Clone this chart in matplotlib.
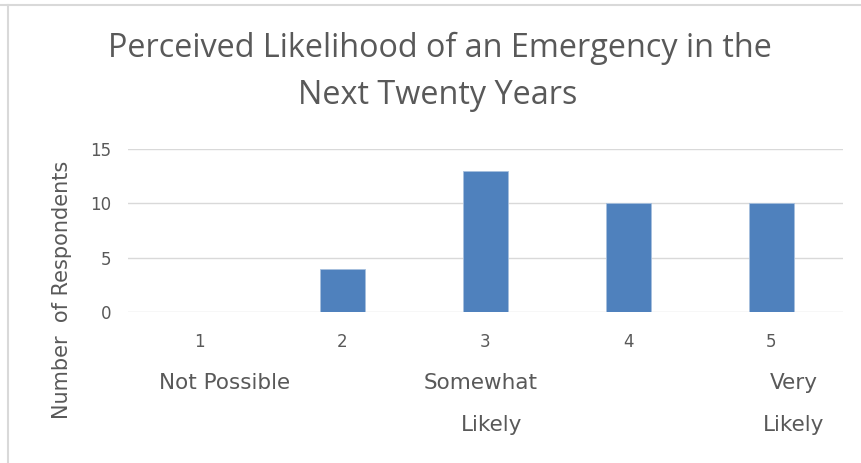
"""Perceived likelihood bar chart."""

import matplotlib

matplotlib.use("Agg")

import matplotlib.pyplot as plt
from matplotlib.lines import Line2D
from matplotlib.transforms import blended_transform_factory, offset_copy

ratings = ["1", "2", "3", "4", "5"]
respondents = [0, 4, 13, 10, 10]
anchor_top = ["Not Possible", "", "Somewhat", "", "Very"]
anchor_bottom = ["", "", "Likely", "", "Likely"]
y_ticks = [0, 5, 10, 15]

TEXT = "#595959"
BAR = "#4f81bd"
GRID = "#d9d9d9"
W, H = 862, 463

plt.rcParams["font.family"] = ["DejaVu Sans"]

fig = plt.figure(figsize=(W / 100, H / 100), dpi=100)
ax = fig.add_axes([128 / W, 1 - 312 / H, (843 - 128) / W, (312 - 149) / H])

x = range(len(ratings))
ax.bar(x, respondents, width=0.31, color=BAR, edgecolor="#a7c0de", linewidth=0.6, zorder=3)
ax.set_xlim(-0.5, len(ratings) - 0.5)
ax.set_ylim(0, 15)
ax.set_yticks(y_ticks)
ax.set_yticklabels([str(v) for v in y_ticks])
ax.set_xticks(list(x))
ax.set_xticklabels(ratings)
ax.tick_params(axis="both", length=0, labelsize=12, colors=TEXT)
ax.tick_params(axis="x", pad=15)
ax.tick_params(axis="y", pad=12)
ax.grid(axis="y", color=GRID, linewidth=1.0, zorder=0)
for side in ax.spines.values():
    side.set_visible(False)

# anchor words under the numeric ratings, nudged in pixels like the source sheet
trans = blended_transform_factory(ax.transData, fig.transFigure)
top_shift = [25, 0, -5, 0, 22]
bottom_shift = [0, 0, 6, 0, 22]
for i in x:
    if anchor_top[i]:
        t = offset_copy(trans, fig=fig, x=top_shift[i], y=0, units="dots")
        ax.text(i, 1 - 383 / H, anchor_top[i], transform=t, ha="center",
                va="center", fontsize=15.5, color=TEXT)
    if anchor_bottom[i]:
        t = offset_copy(trans, fig=fig, x=bottom_shift[i], y=0, units="dots")
        ax.text(i, 1 - 425 / H, anchor_bottom[i], transform=t, ha="center",
                va="center", fontsize=15.5, color=TEXT)

fig.text(62 / W, 1 - 290 / H, "Number  of Respondents", rotation=90, ha="center",
         va="center", fontsize=15, color=TEXT)

fig.text(440 / W, 1 - 48 / H, "Perceived Likelihood of an Emergency in the",
         ha="center", va="center", fontsize=23.3, color=TEXT, family=["Open Sans", "DejaVu Sans"])
fig.text(438 / W, 1 - 95 / H, "Next Twenty Years",
         ha="center", va="center", fontsize=23.3, color=TEXT, family=["Open Sans", "DejaVu Sans"])

# chart frame: top and left edges
fig.add_artist(Line2D([0, 1], [1 - 4.5 / H] * 2, transform=fig.transFigure, color=GRID, linewidth=1.5))
fig.add_artist(Line2D([8 / W] * 2, [0, 1 - 4.5 / H], transform=fig.transFigure, color=GRID, linewidth=1.5))

fig.savefig("out.png", dpi=100)
plt.close(fig)
